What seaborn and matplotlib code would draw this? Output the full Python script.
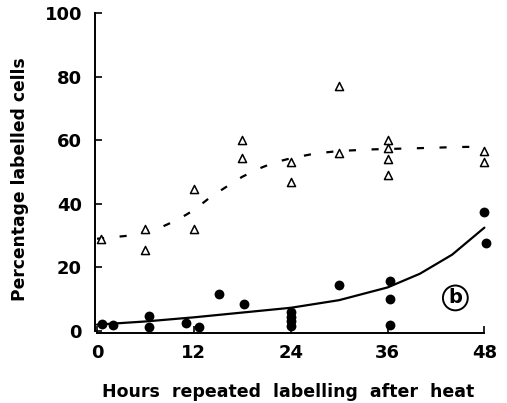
import matplotlib
matplotlib.use("Agg")
import matplotlib.pyplot as plt
import seaborn as sns
import pandas as pd

# Open triangles (labelled cells, dashed curve)
tri_x = [0.5, 6, 6, 12, 12, 18, 18, 24, 24, 30, 30, 36, 36, 36, 36, 48, 48]
tri_y = [29, 32, 25.5, 44.5, 32, 60, 54.5, 53, 47, 77, 56, 60, 57.5, 54, 49, 56.5, 53]

# Filled dots (solid curve)
dot_x = [0.6, 2, 6.5, 6.5, 11, 12.6, 15.1, 18.2, 24, 24, 24, 24, 30, 36.3, 36.3, 36.3, 48, 48.2]
dot_y = [2.2, 2, 4.7, 1.2, 2.5, 1.2, 11.5, 8.4, 6, 4.5, 3, 1.5, 14.6, 15.8, 10.2, 1.9, 37.3, 27.6]

# Fitted curves
dash_x = [0, 4, 8, 10, 12, 14, 16, 18, 20, 22, 24, 27, 30, 34, 40, 44, 48]
dash_y = [29, 30, 32.7, 35, 38, 42, 45.3, 48.5, 51, 53, 54.3, 55.8, 56.6, 57.1, 57.5, 57.8, 58]
solid_x = [0, 6, 12, 18, 24, 30, 36, 40, 44, 48]
solid_y = [2, 3, 4.3, 5.8, 7.3, 9.7, 13.7, 18, 24, 32.5]

x_ticks = [0, 12, 24, 36, 48]
y_ticks = [0, 20, 40, 60, 80, 100]

sns.set_style("white")
plt.rcParams['font.family'] = ['DejaVu Sans']
plt.rcParams.update({"text.color": "black", "axes.labelcolor": "black",
                     "xtick.color": "black", "ytick.color": "black"})

fig = plt.figure(figsize=(5.07, 4.03), dpi=100)
ax = fig.add_axes([0.1866, 0.1747, 0.7927, 0.801])

sns.lineplot(x=dash_x, y=dash_y, ax=ax, color="black", linewidth=1.6)
ax.lines[-1].set_dashes([3.2, 7])
sns.lineplot(x=solid_x, y=solid_y, ax=ax, color="black", linewidth=1.6)
sns.scatterplot(x=tri_x, y=tri_y, ax=ax, marker="^", s=34, facecolor="white",
                edgecolor="black", linewidth=1.1, clip_on=False, zorder=3)
sns.scatterplot(x=dot_x, y=dot_y, ax=ax, marker="o", s=50, color="black",
                edgecolor="black", linewidth=0, clip_on=False, zorder=3)

ax.set_xlim(-0.3, 49.5)
ax.set_ylim(-0.5, 101)
ax.set_xticks(x_ticks)
ax.set_yticks(y_ticks)
ax.set_xticklabels([str(t) for t in x_ticks], fontsize=13, fontweight="bold")
ax.set_yticklabels([str(t) for t in y_ticks], fontsize=13, fontweight="bold")
ax.tick_params(axis="both", direction="in", length=5, width=1.2, color="black",
               bottom=True, left=True, labelcolor="black")
ax.tick_params(axis="x", pad=8)
ax.tick_params(axis="y", pad=9)

for s in ["top", "right"]:
    ax.spines[s].set_visible(False)
ax.spines["left"].set_bounds(0, 100)
ax.spines["bottom"].set_bounds(0, 48)
for s in ["left", "bottom"]:
    ax.spines[s].set_color("black")
    ax.spines[s].set_linewidth(1.4)

ax.set_xlabel("Hours  repeated  labelling  after  heat", fontsize=12.5,
              fontweight="bold", color="black")
ax.set_ylabel("Percentage labelled cells", fontsize=12.3, fontweight="bold",
              color="black")
ax.xaxis.set_label_coords(0.481, -0.157)
ax.yaxis.set_label_coords(-0.186, 0.476)
ax.yaxis.label.set_va("center")

ax.text(44.4, 10.4, "b", fontsize=14, fontweight="bold", ha="center", va="center",
        bbox=dict(boxstyle="circle,pad=0.15", facecolor="white", edgecolor="black", linewidth=1.4))

fig.savefig("out.png", dpi=100)
